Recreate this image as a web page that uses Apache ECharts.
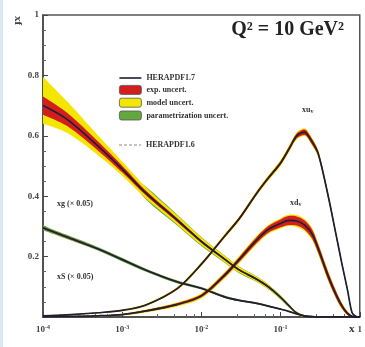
<!DOCTYPE html>
<html><head><meta charset="utf-8">
<script src="https://cdn.jsdelivr.net/npm/echarts@6/dist/echarts.min.js"></script>
<style>html,body{margin:0;padding:0;background:#fff}#c{width:365px;height:347px}</style>
</head><body><div id="c"></div>
<script>
// x grid (log spaced)
const xs = [1e-4, 2e-4, 5e-4, 1e-3, 2e-3, 5e-3, 0.01, 0.02, 0.03, 0.05, 0.07, 0.1, 0.13, 0.16, 0.2, 0.25, 0.3, 0.4, 0.5, 0.6, 0.7, 0.8, 0.9, 1.0];
// xu_v
const uC   = [0.004, 0.007, 0.014, 0.022, 0.04, 0.095, 0.175, 0.27, 0.325, 0.41, 0.46, 0.51, 0.56, 0.60, 0.612, 0.58, 0.54, 0.40, 0.275, 0.172, 0.09, 0.014, 0.002, 0];
const uExp = [0.001, 0.001, 0.001, 0.001, 0.002, 0.003, 0.004, 0.004, 0.005, 0.005, 0.005, 0.006, 0.007, 0.008, 0.009, 0.009, 0.008, 0.007, 0.006, 0.005, 0.004, 0.002, 0.001, 0];
const uTot = [0.002, 0.002, 0.002, 0.003, 0.004, 0.005, 0.006, 0.007, 0.008, 0.008, 0.009, 0.010, 0.011, 0.012, 0.013, 0.013, 0.012, 0.010, 0.009, 0.007, 0.005, 0.003, 0.001, 0];
// xd_v
const dC   = [0.001, 0.002, 0.004, 0.008, 0.02, 0.042, 0.07, 0.14, 0.19, 0.255, 0.29, 0.31, 0.32, 0.318, 0.305, 0.275, 0.225, 0.135, 0.075, 0.035, 0.012, 0.002, 0, 0];
const dExp = [0.001, 0.001, 0.001, 0.002, 0.003, 0.004, 0.005, 0.007, 0.008, 0.010, 0.011, 0.013, 0.015, 0.015, 0.015, 0.015, 0.014, 0.013, 0.011, 0.008, 0.005, 0.002, 0.001, 0];
const dTot = [0.002, 0.002, 0.002, 0.003, 0.005, 0.007, 0.009, 0.011, 0.012, 0.014, 0.015, 0.017, 0.019, 0.020, 0.020, 0.020, 0.019, 0.017, 0.014, 0.011, 0.007, 0.003, 0.001, 0];
// xg (x 0.05)
const gC    = [0.70, 0.655, 0.565, 0.49, 0.41, 0.32, 0.25, 0.19, 0.156, 0.125, 0.10, 0.065, 0.035, 0.013, 0.003, 0.001, 0, 0, 0, 0, 0, 0, 0, 0];
const gExp  = [0.030, 0.022, 0.015, 0.011, 0.008, 0.006, 0.004, 0.003, 0.003, 0.003, 0.003, 0.002, 0.002, 0.002, 0.001, 0.001, 0, 0, 0, 0, 0, 0, 0, 0];
const gUp   = [0.095, 0.060, 0.035, 0.025, 0.020, 0.016, 0.013, 0.011, 0.010, 0.008, 0.007, 0.006, 0.005, 0.004, 0.003, 0.002, 0, 0, 0, 0, 0, 0, 0, 0];
const gDn   = [0.060, 0.045, 0.030, 0.022, 0.018, 0.015, 0.012, 0.010, 0.009, 0.008, 0.007, 0.006, 0.005, 0.004, 0.003, 0.002, 0, 0, 0, 0, 0, 0, 0, 0];
const gPar  = [0, 0, 0, 0, 0.021, 0.018, 0.015, 0.012, 0.011, 0.009, 0.008, 0.007, 0.005, 0.004, 0.003, 0.002, 0, 0, 0, 0, 0, 0, 0, 0];
// xS (x 0.05)
const sC    = [0.295, 0.265, 0.225, 0.19, 0.155, 0.116, 0.095, 0.066, 0.055, 0.045, 0.036, 0.026, 0.018, 0.010, 0.004, 0.001, 0, 0, 0, 0, 0, 0, 0, 0];
const sExp  = [0.003, 0.003, 0.002, 0.002, 0.002, 0.002, 0.002, 0.002, 0.002, 0.002, 0.001, 0.001, 0.001, 0.001, 0, 0, 0, 0, 0, 0, 0, 0, 0, 0];
const sPar  = [0.008, 0.007, 0.006, 0.006, 0.005, 0.005, 0.004, 0.004, 0.003, 0.003, 0.003, 0.002, 0.002, 0.002, 0.001, 0.001, 0, 0, 0, 0, 0, 0, 0, 0];
// axis ticks
const yTicks = [0.2, 0.4, 0.6, 0.8, 1];
const xTickExp = [-4, -3, -2, -1, 0];

const RED = '#d41e1e', YEL = '#f3e600', GRN = '#62a83e', LINE = '#1e1e34';
const FONT = '"Liberation Serif", "DejaVu Serif", serif';

const series = [];
let bandId = 0;
// data rows are [y, x] so that the stacked dimension is y
function band(name, c, dn, up, color, z) {
  const id = 'b' + (bandId++);
  const lo = c.map((v, i) => Math.max(0, v - dn[i]));
  const hi = c.map((v, i) => v + up[i]);
  series.push({ type: 'line', name: id + '-lo', stack: id, data: xs.map((x, i) => [lo[i], x]), encode: { x: 1, y: 0 },
    symbol: 'none', symbolSize: 0, lineStyle: { width: 0, opacity: 0 }, smooth: 0.3, silent: true, z: z });
  series.push({ type: 'line', name: name, stack: id, data: xs.map((x, i) => [hi[i] - lo[i], x]), encode: { x: 1, y: 0 },
    symbol: 'none', symbolSize: 0, lineStyle: { width: 0, opacity: 0, color: color }, itemStyle: { color: color },
    areaStyle: { color: color, opacity: 1 }, smooth: 0.3, silent: true, z: z });
}
function curve(name, c, dashed) {
  series.push({ type: 'line', name: name, data: xs.map((x, i) => [x, c[i]]), symbol: 'none', symbolSize: 0, smooth: 0.3,
    lineStyle: dashed ? { color: '#8a8a8a', width: 1, type: [2, 2] } : { color: LINE, width: 1.7 },
    itemStyle: { color: dashed ? '#8a8a8a' : LINE }, silent: true, z: dashed ? 4 : 5 });
}
// green (param), yellow (model), red (exp)
band('parametrization uncert.', gC, gPar, gPar, GRN, 1);
band('parametrization uncert.', sC, sPar, sPar, GRN, 1);
band('model uncert.', gC, gDn, gUp, YEL, 2);
band('model uncert.', uC, uTot, uTot, YEL, 2);
band('model uncert.', dC, dTot, dTot, YEL, 2);
band('exp. uncert.', gC, gExp, gExp, RED, 3);
band('exp. uncert.', uC, uExp, uExp, RED, 3);
band('exp. uncert.', dC, dExp, dExp, RED, 3);
band('exp. uncert.', sC, sExp, sExp, RED, 3);
curve('HERAPDF1.7', uC); curve('HERAPDF1.7', dC); curve('HERAPDF1.7', gC); curve('HERAPDF1.7', sC);
curve('HERAPDF1.6', uC, true); curve('HERAPDF1.6', dC, true); curve('HERAPDF1.6', gC, true); curve('HERAPDF1.6', sC, true);

const legText = { fontFamily: FONT, fontSize: 8, fontWeight: 'bold', color: '#333' };
const sw = (name, color) => ({ name: name, icon: 'roundRect', itemStyle: { color: color, borderColor: '#555', borderWidth: 0.8 } });

const chart = echarts.init(document.getElementById('c'), null, { renderer: 'canvas' });
chart.setOption({
  animation: false,
  backgroundColor: '#fff',
  grid: { left: 43, right: 5, top: 15, bottom: 30, show: true, borderColor: '#555', borderWidth: 1.5 },
  xAxis: {
    type: 'log', logBase: 10, min: 1e-4, max: 1,
    axisLine: { lineStyle: { color: '#444', width: 1.5 } },
    axisTick: { inside: true, length: 5, lineStyle: { color: '#444' } },
    minorTick: { show: true, splitNumber: 5, length: 3, lineStyle: { color: '#666' } },
    splitLine: { show: false },
    axisLabel: {
      margin: 7,
      formatter: function (v) {
        const e = Math.round(Math.log10(v));
        if (xTickExp.indexOf(e) < 0) return '';
        return e === 0 ? '{b|1}' : '{b|10}{s|' + e + '}';
      },
      rich: {
        b: { fontFamily: FONT, fontSize: 9, fontWeight: 'bold', color: '#444', lineHeight: 12 },
        s: { fontFamily: FONT, fontSize: 6, fontWeight: 'bold', color: '#444', verticalAlign: 'top', lineHeight: 7 }
      }
    }
  },
  yAxis: {
    type: 'value', min: 0, max: 1, interval: 0.2,
    axisLine: { show: true, lineStyle: { color: '#444', width: 1.5 } },
    axisTick: { show: true, inside: true, length: 5, lineStyle: { color: '#444' } },
    minorTick: { show: true, splitNumber: 4, length: 3, lineStyle: { color: '#666' } },
    splitLine: { show: false },
    axisLabel: {
      margin: 4, fontFamily: FONT, fontSize: 9, fontWeight: 'bold', color: '#444',
      formatter: v => (yTicks.some(t => Math.abs(t - v) < 1e-9) ? (v === 1 ? '1' : v.toFixed(1)) : '')
    }
  },
  legend: [
    { orient: 'vertical', left: 114, top: 69, itemWidth: 22, itemHeight: 9, itemGap: 3, textStyle: legText,
      selectedMode: false, symbolKeepAspect: true,
      data: [{ name: 'HERAPDF1.7', icon: 'path://M0,0h22v1.6h-22z', itemStyle: { color: LINE, borderWidth: 0 } },
             sw('exp. uncert.', RED), sw('model uncert.', YEL), sw('parametrization uncert.', GRN)] },
    { orient: 'vertical', left: 114, top: 136, itemWidth: 22, itemHeight: 9, textStyle: legText,
      selectedMode: false, symbolKeepAspect: true,
      data: [{ name: 'HERAPDF1.6', icon: 'path://M0,0h3v1.2h-3zM5,0h3v1.2h-3zM10,0h3v1.2h-3zM15,0h3v1.2h-3zM20,0h2v1.2h-2z',
               itemStyle: { color: '#8a8a8a', borderWidth: 0 } }] }
  ],
  graphic: [
    { type: 'rect', left: 0, top: 0, shape: { width: 3, height: 347 }, style: { fill: '#dbe8f5' }, silent: true },
    { type: 'text', left: 60, top: -9, style: { text: 'H1 and ZEUS HERA I+II PDF Fit', font: 'bold 12px ' + FONT, fill: '#888' } },
    { type: 'text', right: 21, top: 20, style: { text: 'Q\u00B2 = 10 GeV\u00B2', font: 'bold 20px ' + FONT, fill: '#222' } },
    { type: 'text', left: 12, top: 16, rotation: -Math.PI / 2, style: { text: 'xf', font: 'bold 11px ' + FONT, fill: '#444' } },
    { type: 'text', left: 349, top: 324, style: { text: 'x', font: 'bold 11px ' + FONT, fill: '#333' } },
    { type: 'text', left: 302, top: 106, style: { text: '{a|xu}{s|v}', rich: { a: { font: 'bold 8px ' + FONT, fill: '#333' }, s: { font: 'bold 6px ' + FONT, fill: '#333', verticalAlign: 'bottom' } } } },
    { type: 'text', left: 290, top: 199, style: { text: '{a|xd}{s|v}', rich: { a: { font: 'bold 8px ' + FONT, fill: '#333' }, s: { font: 'bold 6px ' + FONT, fill: '#333', verticalAlign: 'bottom' } } } },
    { type: 'text', left: 57, top: 200, style: { text: 'xg (\u00D7 0.05)', font: 'bold 8px ' + FONT, fill: '#333' } },
    { type: 'text', left: 57, top: 273, style: { text: 'xS (\u00D7 0.05)', font: 'bold 8px ' + FONT, fill: '#333' } }
  ],
  series: series
});
</script></body></html>
